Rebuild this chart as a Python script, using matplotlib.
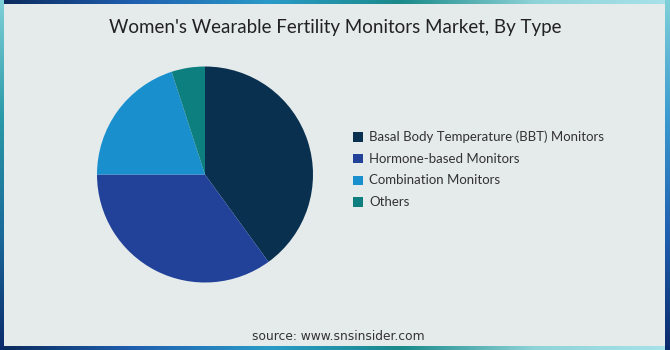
import matplotlib
matplotlib.use("Agg")
import matplotlib.pyplot as plt
import numpy as np
from matplotlib.colors import LinearSegmentedColormap
from matplotlib.patches import Rectangle

categories = ["Basal Body Temperature (BBT) Monitors", "Hormone-based Monitors",
              "Combination Monitors", "Others"]
shares = [40, 35, 20, 5]
colors = ["#0a3050", "#22429a", "#1a8fce", "#0e7f7f"]
title = "Women's Wearable Fertility Monitors Market, By Type"
source = "source: www.snsinsider.com"

W, H = 670, 350
fig = plt.figure(figsize=(W / 100, H / 100), dpi=100)
plt.rcParams['font.family'] = ['Lato', 'DejaVu Sans']

# Gradient frame
bg = fig.add_axes([0, 0, 1, 1])
bg.set_axis_off()
h_cmap = LinearSegmentedColormap.from_list("h", ["#0b2a5c", "#1f5fb0", "#2a9bc8", "#1a8a8a", "#8fd3d8", "#a8e2ea"])
v_left = LinearSegmentedColormap.from_list("vl", ["#7fd0d8", "#2a9aa8", "#1a6a9a", "#0b2a6c"])
v_right = LinearSegmentedColormap.from_list("vr", ["#7fd0d8", "#3a9ad0", "#1f5fb0", "#0b2a6c"])
grad_h = np.tile(np.linspace(0, 1, 256), (4, 1))
grad_v = np.tile(np.linspace(0, 1, 256)[:, None], (1, 4))
bg.set_xlim(0, W)
bg.set_ylim(H, 0)
bg.imshow(grad_h, cmap=h_cmap, extent=[0, W, 4, 0], aspect='auto')
bg.imshow(grad_h, cmap=h_cmap, extent=[0, W, H, H - 4], aspect='auto')
bg.imshow(grad_v, cmap=v_left, extent=[0, 4, H, 0], aspect='auto')
bg.imshow(grad_v, cmap=v_right, extent=[W - 5, W, H, 0], aspect='auto')
bg.add_patch(Rectangle((4, 4), W - 9, H - 8, facecolor="#e5ebeb", edgecolor='none'))
bg.set_xlim(0, W)
bg.set_ylim(H, 0)

fig.text(0.5, 1 - 28 / H, title, ha='center', va='center', fontsize=13.5, color='#222222')
fig.text(0.505, 1 - 337 / H, source, ha='center', va='center',
         fontsize=8.8, color='#333333', family=['DejaVu Sans'])

# Pie
cx, cy, r = 205, 174.5, 108
ax = fig.add_axes([(cx - r) / W, 1 - (cy + r) / H, 2 * r / W, 2 * r / H])
ax.pie(shares, colors=colors, startangle=90, counterclock=False, radius=1,
       wedgeprops=dict(linewidth=0))
ax.set_xlim(-1, 1)
ax.set_ylim(-1, 1)
ax.set_aspect('equal')
ax.set_axis_off()

# Legend
x0, y0, dy, sq = 353, 137, 21.7, 9.5
for i, (cat, col) in enumerate(zip(categories, colors)):
    y = y0 + i * dy
    bg.add_patch(Rectangle((x0, y - sq / 2), sq, sq, facecolor=col, edgecolor='none'))
    bg.text(x0 + 16, y, cat, ha='left', va='center', fontsize=9.5, color='#333333')

fig.savefig("out.png", dpi=100)
